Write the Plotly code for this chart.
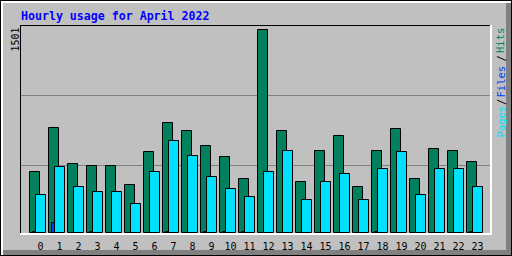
import plotly.graph_objects as go

# ---- data ----
HOURS = list(range(24))
HOUR_LABELS = [str(h) for h in HOURS]
HITS = [444, 776, 503, 495, 495, 348, 592, 813, 747, 643, 555, 399,
        1501, 747, 377, 599, 710, 333, 599, 769, 392, 621, 599, 525]
FILES = [7, 67, 0, 7, 0, 0, 0, 7, 0, 7, 7, 7,
         0, 0, 0, 0, 0, 0, 7, 0, 0, 0, 0, 7]
PAGES = [281, 481, 333, 296, 303, 214, 444, 673, 569, 407, 318, 259,
         451, 599, 237, 377, 429, 237, 473, 592, 274, 466, 473, 333]
MAX_LABEL = "1501"
TITLE = "Hourly usage for April 2022"
LEGEND_PARTS = ["Hits", "/", "Files", "/", "Pages"]

# ---- layout geometry (pixels) ----
WIDTH, HEIGHT = 512, 256
L, R, T, B = 21, 490, 26, 233          # plot area
PW, PH = R - L, B - T
STEP = 19.0                             # px per hour
TICK0 = 40.5                            # px position of hour 0
BASE = 232.5                            # px of value 0
TOP_MAX = 29.5                          # px of max value
Y_MAX = 1501.0
PER_PX = Y_MAX / (BASE - TOP_MAX)

x_min = -(TICK0 - L) / STEP
x_max = x_min + PW / STEP
y_min = -(B - BASE) * PER_PX
y_max = (BASE - T) * PER_PX
grid_vals = [(BASE - (p + 0.5)) * PER_PX for p in (95, 165)]

def px(x):
    return (x - L) / PW

def py(y):
    return (B - y) / PH

C_BG = "#C0C0C0"
C_HITS = "#00805C"
C_FILES = "#0040FF"
C_PAGES = "#00E0FF"

bar_w = 10 / STEP
fig = go.Figure()
fig.add_trace(go.Bar(x=HOURS, y=HITS, name="Hits", marker_color=C_HITS,
                     marker_line=dict(color="black", width=1),
                     offset=(29.5 - TICK0) / STEP, width=bar_w))
fig.add_trace(go.Bar(x=HOURS, y=FILES, name="Files", marker_color=C_FILES,
                     marker_line=dict(color="black", width=1),
                     offset=(32.5 - TICK0) / STEP, width=bar_w))
fig.add_trace(go.Bar(x=HOURS, y=PAGES, name="Pages", marker_color=C_PAGES,
                     marker_line=dict(color="black", width=1),
                     offset=(35.5 - TICK0) / STEP, width=bar_w))

shapes = []
def rect(x0, y0, x1, y1, color):
    shapes.append(dict(type="rect", xref="paper", yref="paper",
                       x0=px(x0), x1=px(x1), y0=py(y1), y1=py(y0),
                       fillcolor=color, line=dict(width=0), layer="above"))

# outer 3D frame
rect(1, 1, 511, 3, "white")
rect(1, 1, 3, 255, "white")
rect(3, 250, 511, 255, "#808080")
rect(506, 3, 511, 255, "#808080")
rect(0, 0, 512, 1, "black")
rect(0, 0, 1, 256, "black")
rect(0, 255, 512, 256, "black")
rect(511, 0, 512, 256, "black")
# plot frame
rect(20, 25, 490, 26, "black")
rect(20, 25, 21, 233, "black")
rect(20, 233, 492, 235, "white")
rect(490, 25, 492, 235, "white")

mono = "DejaVu Sans Mono"
annotations = [
    dict(text="<b>" + TITLE + "</b>", xref="paper", yref="paper",
         x=px(18.5), y=py(15.5), xanchor="left", yanchor="middle",
         showarrow=False, font=dict(family=mono, size=11.6, color="#0000FF")),
    dict(text=MAX_LABEL, xref="paper", yref="paper", textangle=-90,
         x=px(15), y=py(39.5), xanchor="center", yanchor="middle",
         showarrow=False, font=dict(family=mono, size=10, color="black")),
]
legend_colors = [C_HITS, "black", C_FILES, "black", C_PAGES]
legend_centers = [40.5, 59, 82, 102.5, 122]
for txt, col, cy in zip(LEGEND_PARTS, legend_colors, legend_centers):
    annotations.append(dict(text=txt, xref="paper", yref="paper", textangle=-90,
                            x=px(500.5), y=py(cy), xanchor="center",
                            yanchor="middle", showarrow=False,
                            font=dict(family=mono, size=10.5, color=col)))

fig.update_layout(
    width=WIDTH, height=HEIGHT, autosize=False,
    margin=dict(l=L, r=WIDTH - R, t=T, b=HEIGHT - B, pad=0, autoexpand=False),
    paper_bgcolor=C_BG, plot_bgcolor=C_BG,
    barmode="overlay", bargap=0, showlegend=False,
    shapes=shapes, annotations=annotations,
    xaxis=dict(range=[x_min, x_max], tickvals=HOURS, ticktext=HOUR_LABELS,
               showgrid=False, zeroline=False, showline=False, ticks="",
               ticklabelstandoff=6, automargin=False,
               tickfont=dict(family=mono, size=10, color="black"),
               fixedrange=True),
    yaxis=dict(range=[y_min, y_max], tickvals=grid_vals, showticklabels=False,
               showgrid=True, gridcolor="#808080", gridwidth=1,
               automargin=False,
               zeroline=False, showline=False, ticks="", fixedrange=True),
)

fig.write_html("out.html", config={"displayModeBar": False})
